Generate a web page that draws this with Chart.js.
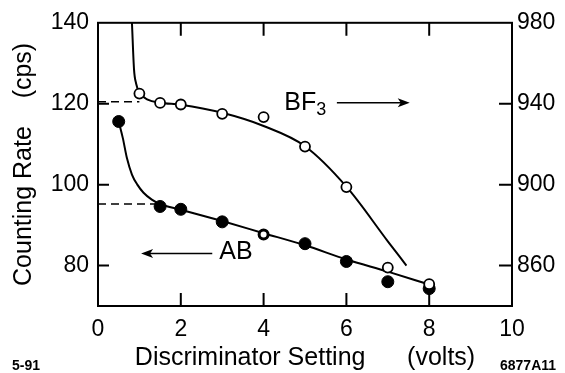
<!DOCTYPE html>
<html>
<head>
<meta charset="utf-8">
<script src="https://cdn.jsdelivr.net/npm/chart.js@4"></script>
<style>
  body { margin: 0; background: #fff; }
  canvas { display: block; }
</style>
</head>
<body>
<canvas id="chart1" width="565" height="373" style="width:565px;height:373px"></canvas>
<script>
// tick values
var xTicks = [0, 2, 4, 6, 8, 10]
var leftTicks = [80, 100, 120, 140]
var rightTicks = [860, 900, 940, 980]

// BF3 measured points (right axis)
var bf3X = [1, 1.5, 2, 3, 4, 5, 6, 7, 8]
var bf3Y = [945, 940.4, 939.6, 935, 933.4, 918.8, 898.8, 859, 850.8]

// AB measured points (left axis)
var abX = [0.5, 1.5, 2, 3, 4, 5, 6, 7, 8]
var abY = [115.6, 94.6, 93.9, 90.8, 87.7, 85.4, 81.0, 76.0, 74.3]

// hand drawn fit curves
var bf3CurveX = [0.82, 0.87, 0.92, 1.0, 1.2, 1.5, 2, 3, 4, 5, 6, 7, 7.45]
var bf3CurveY = [980, 957, 950, 945.5, 942, 940.5, 939.5, 935.5, 929, 919, 899, 872, 860]
var abCurveX = [0.5, 0.6, 0.7, 0.82, 0.95, 1.1, 1.3, 1.5, 2, 3, 4, 5, 6, 7, 8]
var abCurveY = [115.6, 111.5, 106.5, 102.5, 100, 98, 96.3, 95.2, 93.8, 91, 88, 85, 81.5, 78.5, 75.3]

// dashed plateau lines
var bf3RefX = [0, 1.0]
var bf3RefY = [941, 941]
var abRefX = [0, 1.48]
var abRefY = [95.2, 95.2]

function pts(xs, ys) {
    var out = []
    for (var i = 0; i < xs.length; ++i) {
        out.push({x: xs[i], y: ys[i]})
    }
    return out
}

var FONT = "'Liberation Sans', Arial, Helvetica, sans-serif"

function arrow(ctx, x1, y1, x2, y2) {
    var dir = x2 > x1 ? 1 : -1
    ctx.beginPath()
    ctx.moveTo(x1, y1)
    ctx.lineTo(x2 - dir * 8, y2)
    ctx.stroke()
    ctx.beginPath()
    ctx.moveTo(x2, y2)
    ctx.lineTo(x2 - dir * 12, y2 - 4.5)
    ctx.lineTo(x2 - dir * 9, y2)
    ctx.lineTo(x2 - dir * 12, y2 + 4.5)
    ctx.closePath()
    ctx.fill()
}

var decor = {
    id: 'decor',
    afterDraw: function (chart) {
        var ctx = chart.ctx
        var a = chart.chartArea
        var x = chart.scales.x, y = chart.scales.y, y2 = chart.scales.y2
        ctx.save()
        ctx.strokeStyle = '#000'
        ctx.fillStyle = '#000'
        ctx.lineWidth = 2
        ctx.strokeRect(a.left, a.top, a.right - a.left, a.bottom - a.top)

        // inward ticks
        ctx.beginPath()
        for (var i = 1; i < xTicks.length - 1; ++i) {
            var px = x.getPixelForValue(xTicks[i])
            ctx.moveTo(px, a.bottom); ctx.lineTo(px, a.bottom - 13)
            ctx.moveTo(px, a.top); ctx.lineTo(px, a.top + 13)
        }
        for (var i = 0; i < leftTicks.length - 1; ++i) {
            var py = y.getPixelForValue(leftTicks[i])
            ctx.moveTo(a.left, py); ctx.lineTo(a.left + 11, py)
        }
        for (var i = 0; i < rightTicks.length - 1; ++i) {
            var py = y2.getPixelForValue(rightTicks[i])
            ctx.moveTo(a.right, py); ctx.lineTo(a.right - 13, py)
        }
        ctx.stroke()

        // BF3 label and arrow
        ctx.textAlign = 'left'
        ctx.textBaseline = 'alphabetic'
        ctx.font = '25px ' + FONT
        var bx = x.getPixelForValue(4.5), by = y2.getPixelForValue(937)
        ctx.fillText('BF', bx, by)
        var bw = ctx.measureText('BF').width
        ctx.font = '18px ' + FONT
        ctx.fillText('3', bx + bw, by + 5)
        ctx.lineWidth = 1.5
        arrow(ctx, x.getPixelForValue(5.77), y2.getPixelForValue(940.5),
              x.getPixelForValue(7.53), y2.getPixelForValue(940.5))

        // AB label and arrow
        ctx.font = '25px ' + FONT
        ctx.fillText('AB', x.getPixelForValue(2.93), y.getPixelForValue(81.5))
        arrow(ctx, x.getPixelForValue(2.76), y.getPixelForValue(83),
              x.getPixelForValue(1.04), y.getPixelForValue(83))

        // figure ids
        ctx.font = 'bold 14px ' + FONT
        ctx.fillText('5-91', 12, 370)
        ctx.fillText('6877A11', 500, 370)
        ctx.restore()
    }
}

var ctx = document.getElementById('chart1')
var chart1 = new Chart(ctx, {
    type: 'scatter',
    data: {
        datasets: [
            {
                label: 'BF3',
                data: pts(bf3X, bf3Y),
                yAxisID: 'y2',
                pointRadius: 5,
                pointBorderWidth: 1.8,
                pointBorderColor: '#000',
                pointBackgroundColor: '#fff',
                showLine: false
            },
            {
                label: 'AB',
                data: pts(abX, abY),
                yAxisID: 'y',
                pointRadius: abX.map(function (v, i) { return i == 4 ? 4.5 : 6 }),
                pointBorderWidth: abX.map(function (v, i) { return i == 4 ? 3 : 1 }),
                pointBorderColor: '#000',
                pointBackgroundColor: abX.map(function (v, i) { return i == 4 ? '#fff' : '#000' }),
                showLine: false
            },
            {
                label: 'BF3 fit',
                data: pts(bf3CurveX, bf3CurveY),
                yAxisID: 'y2',
                showLine: true,
                borderColor: '#000',
                borderWidth: 2,
                pointRadius: 0,
                cubicInterpolationMode: 'monotone'
            },
            {
                label: 'AB fit',
                data: pts(abCurveX, abCurveY),
                yAxisID: 'y',
                showLine: true,
                borderColor: '#000',
                borderWidth: 2,
                pointRadius: 0,
                cubicInterpolationMode: 'monotone'
            },
            {
                label: 'BF3 plateau',
                data: pts(bf3RefX, bf3RefY),
                yAxisID: 'y2',
                showLine: true,
                borderColor: '#000',
                borderWidth: 1.5,
                borderDash: [8, 5],
                pointRadius: 0
            },
            {
                label: 'AB plateau',
                data: pts(abRefX, abRefY),
                yAxisID: 'y',
                showLine: true,
                borderColor: '#000',
                borderWidth: 1.5,
                borderDash: [8, 5],
                pointRadius: 0
            }
        ]
    },
    options: {
        responsive: false,
        animation: false,
        layout: { padding: { top: 20, left: 0, right: 0, bottom: 0 } },
        plugins: {
            legend: { display: false },
            tooltip: { enabled: false }
        },
        scales: {
            x: {
                type: 'linear',
                min: 0,
                max: 10,
                afterBuildTicks: function (s) { s.ticks = xTicks.map(function (v) { return {value: v} }) },
                afterFit: function (s) { s.height = 67 },
                ticks: { color: '#000', padding: 10, font: { family: FONT, size: 23 } },
                grid: { display: false, drawTicks: false },
                border: { display: false },
                title: {
                    display: true,
                    text: 'Discriminator Setting      (volts)',
                    color: '#000',
                    font: { family: FONT, size: 25 },
                    padding: { top: 0, bottom: 0 }
                }
            },
            y: {
                type: 'linear',
                position: 'left',
                min: 70,
                max: 140,
                afterBuildTicks: function (s) { s.ticks = leftTicks.map(function (v) { return {value: v} }) },
                afterFit: function (s) { s.width = 98 },
                ticks: { color: '#000', padding: 9, font: { family: FONT, size: 23 } },
                grid: { display: false, drawTicks: false },
                border: { display: false },
                title: {
                    display: true,
                    text: 'Counting Rate    (cps)',
                    color: '#000',
                    font: { family: FONT, size: 25 },
                    padding: { top: 9, bottom: 0 }
                }
            },
            y2: {
                type: 'linear',
                position: 'right',
                min: 840,
                max: 980,
                afterBuildTicks: function (s) { s.ticks = rightTicks.map(function (v) { return {value: v} }) },
                afterFit: function (s) { s.width = 53 },
                ticks: { color: '#000', padding: 5, font: { family: FONT, size: 23 } },
                grid: { display: false, drawTicks: false },
                border: { display: false }
            }
        }
    },
    plugins: [decor]
})
</script>
</body>
</html>
